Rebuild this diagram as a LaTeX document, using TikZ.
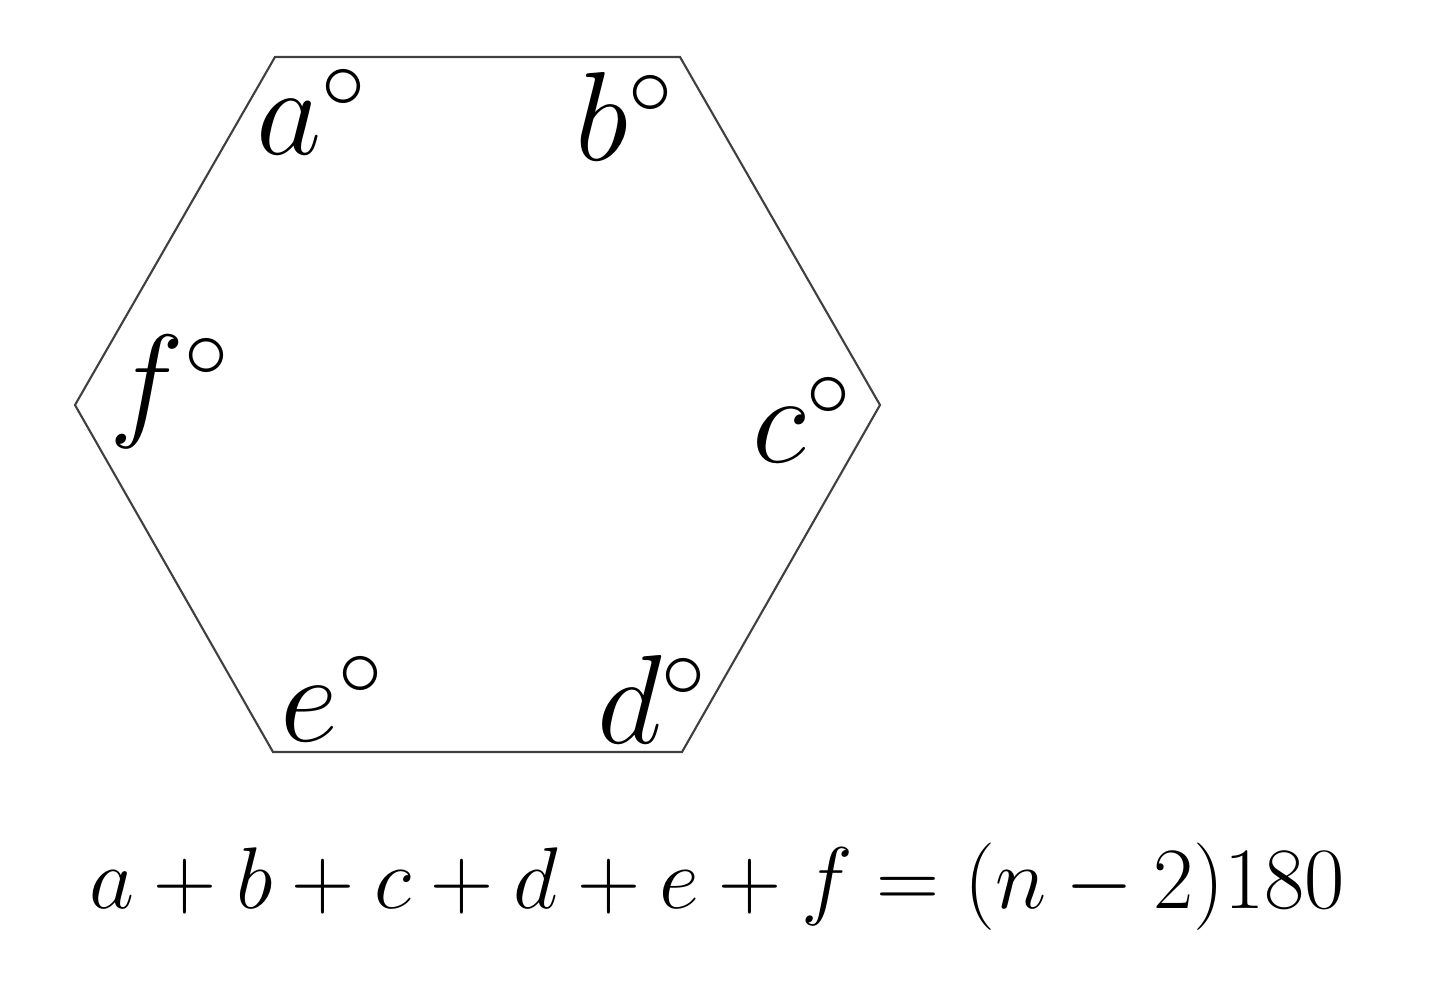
\documentclass[tikz,border=0pt]{standalone}
\usepackage{fontspec}
\newcommand{\dg}{^{\scriptscriptstyle\circ}}
\tikzset{
  edge/.style={draw=black!75, line width=0.6pt, line join=miter},
  angle/.style={font=\fontsize{24.88}{30}\selectfont, inner sep=0pt, scale=1.45, transform shape},
  formula/.style={font=\fontsize{24.88}{28}\selectfont, inner sep=0pt}
}
\begin{document}
\begin{tikzpicture}[x=0.01cm,y=0.01cm]
       \useasboundingbox (0,0) rectangle (1440,993);
       % corners of the hexagon
       \coordinate (A) at (275,936);
       \coordinate (B) at (680,936);
       \coordinate (C) at (880,588);
       \coordinate (D) at (682,241);
       \coordinate (E) at (273,241);
       \coordinate (F) at (75,588);
       \draw[edge] (A) -- (B) -- (C) -- (D) -- (E) -- (F) -- cycle;
       % angle labels
       \node[angle] (la) at (312,881) {$a\dg$};
       \node[angle] (lb) at (625,877) {$b\dg$};
       \node[angle] (lc) at (803,573) {$c\dg$};
       \node[angle] (ld) at (653,294) {$d\dg$};
       \node[angle] (le) at (333,294) {$e\dg$};
       \node[angle] (lf) at (170,601) {$f\dg$};
       % angle sum
       \node[formula] (sum) at (717,106) {$a+b+c+d+e+f=(n-2)180$};
\end{tikzpicture}
\end{document}
